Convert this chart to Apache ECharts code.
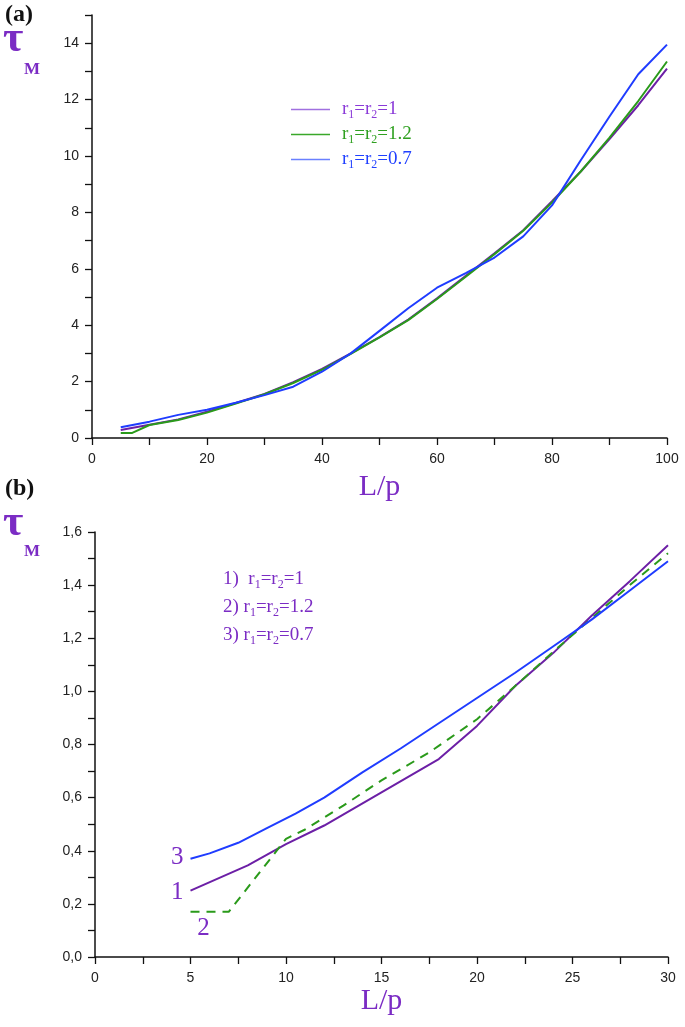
<!DOCTYPE html>
<html><head><meta charset="utf-8">
<script src="https://cdn.jsdelivr.net/npm/echarts@6/dist/echarts.min.js"></script>
<style>html,body{margin:0;padding:0;background:#fff}#c{width:685px;height:1027px}</style>
</head><body><div id="c"></div>
<script>
// ---- Panel (a) data ----
const topX      = [5,10,15,20,25,30,35,40,45,50,55,60,65,70,75,80,85,90,95,100];
const topPurple = [0.28,0.47,0.66,0.93,1.24,1.56,1.98,2.45,3.0,3.58,4.2,4.95,5.75,6.55,7.37,8.4,9.45,10.6,11.8,13.1];
const topGreenX = [5,7,10,15,20,25,30,35,40,45,50,55,60,65,70,75,80,85,90,95,100];
const topGreen  = [0.18,0.18,0.46,0.64,0.9,1.22,1.55,1.95,2.42,2.98,3.57,4.18,4.93,5.72,6.52,7.35,8.35,9.45,10.65,11.95,13.35];
const topBlue   = [0.38,0.58,0.82,1.0,1.25,1.52,1.82,2.35,3.0,3.8,4.6,5.33,5.85,6.4,7.15,8.25,9.85,11.4,12.9,13.95];
const topLegend = ['r1=r2=1','r1=r2=1.2','r1=r2=0.7'];

// ---- Panel (b) data ----
const botPurpleX = [5,8,10,12,15,18,20,22,24,26,28,30];
const botPurple  = [0.25,0.345,0.425,0.495,0.62,0.745,0.87,1.02,1.145,1.285,1.415,1.55];
const botGreenX  = [5,7,10,11,13,15,17.5,20,22,24,26,28,30];
const botGreen   = [0.17,0.17,0.445,0.48,0.57,0.665,0.77,0.895,1.02,1.15,1.275,1.40,1.52];
const botBlueX   = [5,6,7.5,9,10.5,12,14,16,18,20,22,24,26,28,30];
const botBlue    = [0.37,0.39,0.43,0.485,0.54,0.60,0.695,0.785,0.88,0.975,1.07,1.17,1.27,1.38,1.49];
const botCurveLabels = ['1','2','3'];

const PURPLE='#6c1fa6', PTXT='#7b2cc4', GREEN='#2a9a1a', BLUE='#1f3cff';
const SERIF='Liberation Serif, DejaVu Serif, serif';
const SANS='Liberation Sans, Arial, sans-serif';

function pairs(xs, ys){ return xs.map((x,i)=>[x, ys[i]]); }
function labelPt(xs, ys, text, pos, off){
  const d = pairs(xs, ys);
  d[0] = {value: d[0], label:{show:true, formatter:text, position:pos, offset:off||[0,0], distance:7,
          fontFamily:SERIF, fontSize:25, color:PTXT}};
  return d;
}
const richSub = {
  t:{fontFamily:SERIF, fontSize:19},
  s:{fontFamily:SERIF, fontSize:12, padding:[11,0,0,0]}
};
function subFmt(s){
  return s.replace(/r(\d)/g, '{t|r}{s|$1}').replace(/=([\d.]+)$/, '{t|=$1}').replace(/\}=\{t\|r\}/g,'}{t|=r}');
}
function axisBase(){
  return {
    axisLine:{show:true, onZero:false, lineStyle:{color:'#111', width:1.5}},
    axisTick:{show:true, inside:false, length:7, lineStyle:{color:'#111', width:1.3}},
    minorTick:{show:true, splitNumber:2, length:7, lineStyle:{color:'#111', width:1.3}},
    splitLine:{show:false},
    axisLabel:{fontFamily:SANS, fontSize:14, color:'#222', margin:14}
  };
}
const chart = echarts.init(document.getElementById('c'));
const yA0 = axisBase(); yA0.axisLabel.showMaxLabel = false; yA0.axisLabel.margin = 13;
const yA1 = axisBase(); yA1.axisLabel.formatter = (v)=>v.toFixed(1).replace('.', ','); yA1.axisLabel.margin = 13;
const option = {
  animation:false,
  backgroundColor:'#fff',
  grid:[
    {left:92, right:18, top:15, bottom:589},
    {left:95, right:17, top:532, bottom:70}
  ],
  xAxis:[
    Object.assign(axisBase(), {gridIndex:0, type:'value', min:0, max:100, interval:20,
      name:'L/p', nameLocation:'middle', nameGap:34,
      nameTextStyle:{fontFamily:SERIF, fontSize:30, color:PTXT}}),
    Object.assign(axisBase(), {gridIndex:1, type:'value', min:0, max:30, interval:5,
      name:'L/p', nameLocation:'middle', nameGap:28,
      nameTextStyle:{fontFamily:SERIF, fontSize:30, color:PTXT}})
  ],
  yAxis:[
    Object.assign(yA0, {gridIndex:0, type:'value', min:0, max:15, interval:2}),
    Object.assign(yA1, {gridIndex:1, type:'value', min:0, max:1.6, interval:0.2})
  ],
  legend:{
    data:[
      {name:topLegend[0], textStyle:{color:'#8a3ad8'}, itemStyle:{color:'#a070e0'}},
      {name:topLegend[1], textStyle:{color:'#2fa020'}, itemStyle:{color:'#3aa82a'}},
      {name:topLegend[2], textStyle:{color:'#2040ff'}, itemStyle:{color:'#6a80ff'}}
    ],
    icon:'rect',
    orient:'vertical', left:286, top:95, itemWidth:39, itemHeight:1.5, itemGap:4,
    formatter:(n)=>subFmt(n),
    textStyle:{fontFamily:SERIF, fontSize:19, padding:[0,0,0,7], rich:richSub}
  },
  series:[
    {name:topLegend[0], type:'line', xAxisIndex:0, yAxisIndex:0, showSymbol:false, symbol:'none',
     data:pairs(topX, topPurple), lineStyle:{color:PURPLE, width:2}, itemStyle:{color:'#a070e0'}},
    {name:topLegend[1], type:'line', xAxisIndex:0, yAxisIndex:0, showSymbol:false, symbol:'none',
     data:pairs(topGreenX, topGreen), lineStyle:{color:GREEN, width:2}, itemStyle:{color:GREEN}},
    {name:topLegend[2], type:'line', xAxisIndex:0, yAxisIndex:0, showSymbol:false, symbol:'none',
     data:pairs(topX, topBlue), lineStyle:{color:BLUE, width:2}, itemStyle:{color:BLUE}},
    {name:'b1', type:'line', xAxisIndex:1, yAxisIndex:1, symbol:'circle', symbolSize:0, showSymbol:true,
     data:labelPt(botPurpleX, botPurple, botCurveLabels[0], 'left', [0,2]), lineStyle:{color:PURPLE, width:2}, itemStyle:{color:PURPLE}},
    {name:'b2', type:'line', xAxisIndex:1, yAxisIndex:1, symbol:'circle', symbolSize:0, showSymbol:true,
     data:labelPt(botGreenX, botGreen, botCurveLabels[1], 'bottom', [13,-3]), lineStyle:{color:GREEN, width:2, type:[9,7]}, itemStyle:{color:GREEN}},
    {name:'b3', type:'line', xAxisIndex:1, yAxisIndex:1, symbol:'circle', symbolSize:0, showSymbol:true,
     data:labelPt(botBlueX, botBlue, botCurveLabels[2], 'left', [0,-1]), lineStyle:{color:BLUE, width:2}, itemStyle:{color:BLUE}}
  ],
  graphic:[
    {type:'text', left:5, top:3, style:{text:'(a)', font:'bold 24px '+SERIF, fill:'#111'}},
    {type:'text', left:5, top:477, style:{text:'(b)', font:'bold 24px '+SERIF, fill:'#111'}},
    {type:'text', left:3, top:18, style:{text:'τ', font:'bold 44px '+SERIF, fill:PTXT}},
    {type:'text', left:24, top:61, style:{text:'M', font:'bold 17px '+SERIF, fill:PTXT}},
    {type:'text', left:3, top:502, style:{text:'τ', font:'bold 44px '+SERIF, fill:PTXT}},
    {type:'text', left:24, top:543, style:{text:'M', font:'bold 17px '+SERIF, fill:PTXT}},
    {type:'text', left:223, top:565, style:{
      text:'{t|1)  r}{s|1}{t|=r}{s|2}{t|=1}\n{t|2) r}{s|1}{t|=r}{s|2}{t|=1.2}\n{t|3) r}{s|1}{t|=r}{s|2}{t|=0.7}',
      fill:PTXT, lineHeight:28, rich:{
        t:{fontFamily:SERIF, fontSize:19, fill:PTXT, lineHeight:28},
        s:{fontFamily:SERIF, fontSize:12, fill:PTXT, padding:[11,0,0,0], lineHeight:28}
      }}}
  ]
};
chart.setOption(option);
</script></body></html>
